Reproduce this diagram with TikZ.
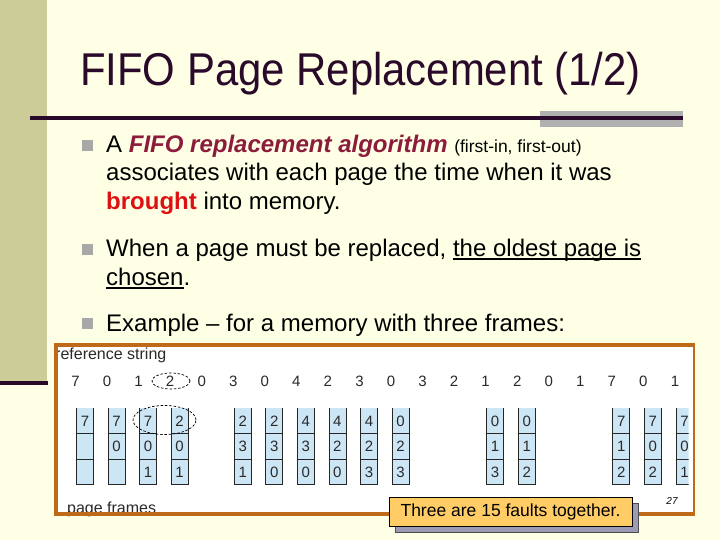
\documentclass[tikz,border=0pt]{standalone}
\usepackage{fontspec}
\usepackage{graphicx}
\setmainfont{Liberation Sans}
\usetikzlibrary{shapes.geometric}
\definecolor{bgcol}{HTML}{FFFFE5}
\definecolor{leftbar}{HTML}{CCCC99}
\definecolor{titlecol}{HTML}{2A0A2A}
\definecolor{graybar}{HTML}{B0B0B0}
\definecolor{bulletcol}{HTML}{A8A8A8}
\definecolor{fifored}{HTML}{8C1C3C}
\definecolor{broughtred}{HTML}{DD1111}
\definecolor{framecol}{HTML}{BF6A18}
\definecolor{cellblue}{HTML}{CCE6F5}
\definecolor{figtext}{HTML}{2A2A2A}
\definecolor{calloutcol}{HTML}{FFCC66}
\definecolor{shadowcol}{HTML}{9C9AB5}
\newsavebox\myulbox
\newcommand\myul[1]{\sbox\myulbox{#1}\rlap{\rule[-3.5pt]{\wd\myulbox}{1.4pt}}\usebox\myulbox}
\begin{document}
\begin{tikzpicture}[x=1pt,y=-1pt,
  btext/.style={anchor=base west, inner sep=0pt, font=\fontsize{24}{29}\selectfont, text=black},
  bulletsq/.style={fill=bulletcol, minimum size=11pt, inner sep=0pt},
  refnum/.style={anchor=base, inner sep=0pt, font=\fontsize{15}{18}\selectfont, text=figtext},
  cellnum/.style={inner sep=0pt, font=\fontsize{15}{17}\selectfont, text=figtext},
  cellline/.style={draw=black!85, line width=0.8pt},
  dashell/.style={draw=black, dashed, dash pattern=on 2.5pt off 1.8pt, line width=0.7pt, ellipse, inner sep=0pt},
  figlabel/.style={anchor=base west, inner sep=0pt, font=\fontsize{16}{19}\selectfont, text=figtext},
  framestyle/.style={draw=framecol, line width=4pt},
  callbox/.style={draw=black, line width=0.8pt, fill=calloutcol, minimum width=243pt, minimum height=29pt, inner sep=0pt, font=\fontsize{17.5}{20}\selectfont},
  shadowbox/.style={draw=black!70, line width=0.6pt, fill=shadowcol, minimum width=243pt, minimum height=29pt, inner sep=0pt}
]
\useasboundingbox (0,0) rectangle (720,540);
\fill[bgcol] (0,0) rectangle (720,540);
% left bar
\fill[leftbar] (0,0) rectangle (47,383);
\draw[titlecol, line width=4pt] (0,383) -- (48,383);
% title rule
\fill[graybar] (540,111) rectangle (683,127);
\draw[titlecol, line width=3.5pt] (30,118) -- (683,118);
% title
\node[anchor=base west, inner sep=0pt, text=titlecol] (title) at (80,86)
  {\fontsize{46}{50}\selectfont\scalebox{0.91}[1]{FIFO Page Replacement (1/2)}};
% bullets
\node[bulletsq] (b1) at (87.5,145.5) {};
\node[bulletsq] (b2) at (87.5,249.5) {};
\node[bulletsq] (b3) at (87.5,323.5) {};
\node[btext] (l1) at (106,153) {A \textcolor{fifored}{\bfseries\itshape FIFO replacement algorithm} {\fontsize{17.5}{20}\selectfont (first-in, first-out)}};
\node[btext] (l2) at (106,181) {associates with each page the time when it was};
\node[btext] (l3) at (106,210) {\textcolor{broughtred}{\bfseries brought} into memory.};
\node[btext] (l4) at (106,256) {When a page must be replaced, \myul{the oldest page is}};
\node[btext] (l5) at (106,285) {\myul{chosen}.};
\node[btext] (l6) at (106,331) {Example -- for a memory with three frames:};
% figure
\fill[white] (55.5,344.5) rectangle (694,514);
\node[figlabel] (refstr) at (55,359) {reference string};
\foreach \v [count=\k from 0] in {7,0,1,2,0,3,0,4,2,3,0,3,2,1,2,0,1,7,0,1}
  \node[refnum] (r\k) at (75.5+31.55*\k,386.5) {\v};
\begin{scope}
\clip (0,0) rectangle (688.5,540);
\foreach \i/\a/\b/\c in {0/7/{}/{},1/7/0/{},2/7/0/1,3/2/0/1,5/2/3/1,6/2/3/0,7/4/3/0,8/4/2/0,9/4/2/3,10/0/2/3,13/0/1/3,14/0/1/2,17/7/1/2,18/7/0/2,19/7/0/1}{
  \pgfmathsetmacro\cx{85+31.55*\i}
  \fill[cellblue] (\cx-8.5,408) rectangle (\cx+8.5,484.5);
  \draw[cellline] (\cx-8.5,408) -- (\cx-8.5,484.5) -- (\cx+8.5,484.5) -- (\cx+8.5,408);
  \draw[cellline] (\cx-8.5,433.5) -- (\cx+8.5,433.5);
  \draw[cellline] (\cx-8.5,459) -- (\cx+8.5,459);
  \node[cellnum] (c\i a) at (\cx,421) {\a};
  \node[cellnum] (c\i b) at (\cx,446.5) {\b};
  \node[cellnum] (c\i c) at (\cx,472) {\c};
}
\end{scope}
\node[dashell, minimum width=38pt, minimum height=16pt] (e1) at (171,381) {};
\node[dashell, minimum width=63pt, minimum height=29pt] (e2) at (164.5,420) {};
\node[figlabel] (pf) at (67,513.5) {page frames};
\node[inner sep=0pt, font=\fontsize{10}{12}\selectfont\itshape, text=black] (pn) at (672,501) {27};
% frame
\draw[framestyle] (694,344.5) -- (55.5,344.5) -- (55.5,514) -- (694,514);
\draw[draw=framecol, line width=2pt] (694,343) -- (694,515.5);
% callout
\node[shadowbox] (cbs) at (516.5,517.5) {};
\node[callbox] (cb) at (510.5,511.5) {Three are 15 faults together.};
\end{tikzpicture}
\end{document}
